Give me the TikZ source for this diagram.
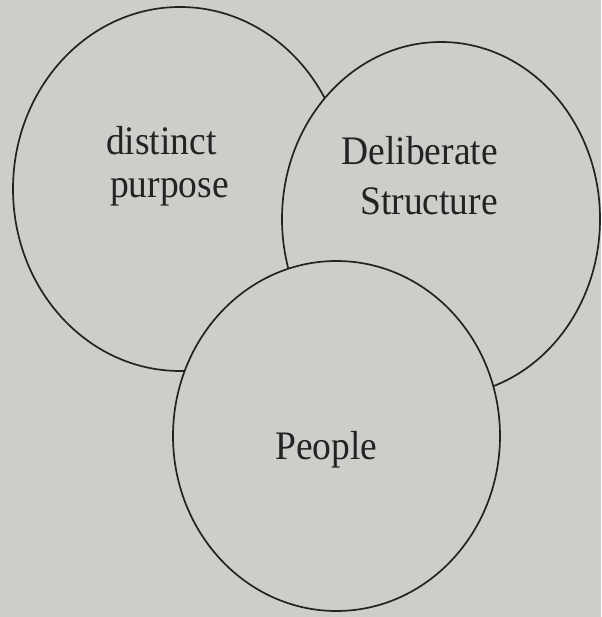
\documentclass[tikz,border=0pt]{standalone}
\usepackage{fontspec}
\setmainfont{Liberation Serif}
\definecolor{paper}{RGB}{206,205,202}
\definecolor{ink}{RGB}{35,35,35}
\tikzset{
  ring/.style={draw=ink, line width=1.7pt, fill=paper},
  label/.style={inner sep=0pt, text=ink, font=\fontsize{37.5}{40}\selectfont, yscale=1.08, transform shape}
}
\begin{document}
\begin{tikzpicture}[x=1pt,y=1pt]
\useasboundingbox (0,0) rectangle (601,617);
\fill[paper] (0,0) rectangle (601,617);
% left ellipse: distinct purpose
\draw[ring] (180,428) ellipse [x radius=167, y radius=182];
% right ellipse: deliberate structure
\draw[ring] (441,398) ellipse [x radius=159, y radius=177];
% bottom ellipse: people
\draw[ring] (336.5,181) ellipse [x radius=163.5, y radius=175];
\node[label, anchor=base west] (dp1) at (106,462) {distinct};
\node[label, anchor=base west] (dp2) at (110,419) {purpose};
\node[label, anchor=base east] (ds1) at (498,452) {Deliberate};
\node[label, anchor=base east] (ds2) at (498,402) {Structure};
\node[label, anchor=base west] (pp) at (275,157) {People};
\end{tikzpicture}
\end{document}
